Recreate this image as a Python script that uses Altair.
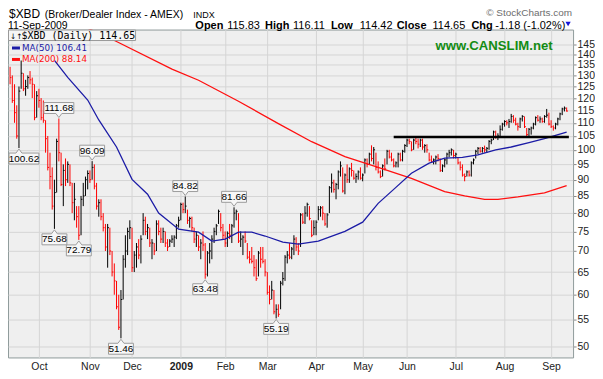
import altair as alt
import pandas as pd

# ---------------- data ----------------
highs = [
    134, 130, 126, 117, 125, 137, 131, 128, 130, 132,
    129, 126, 123, 124, 120, 119, 111, 105, 99, 94,
    90, 104, 111.68, 99, 95, 97, 96, 95, 89, 89,
    82, 82, 85, 89, 91, 93, 93, 96.09, 95, 89,
    84, 84, 80, 77, 77, 76, 70, 67, 63, 60,
    61, 69, 74, 76, 78, 76, 70, 72, 73, 74,
    80, 79, 77, 76, 73, 72, 78, 78, 76, 76,
    75, 73, 73, 74, 74, 77, 79, 83, 83, 84.82,
    81, 79, 79, 76, 75, 74, 73, 75, 72, 70,
    72, 74, 76, 77, 81, 80, 77, 75, 75, 77,
    77, 81.66, 81, 80, 75, 74, 75, 72, 70, 71,
    69, 68, 70, 71, 71, 68, 65, 62, 63, 61,
    58, 58, 63, 65, 69, 70, 72, 71, 74, 73.5,
    72, 80, 80, 82, 83, 82, 78, 78, 78, 82,
    82, 82, 80, 80, 88, 92, 90, 89, 93, 96,
    94, 92, 95, 94, 95.5, 93, 92, 93, 94, 92,
    97, 97, 99, 101.6, 101, 99, 96, 93, 95, 97,
    100, 100, 99, 97, 96, 99, 99, 100, 102, 104,
    104, 103, 104, 104.6, 104, 104, 104, 102, 102, 99,
    98, 97, 98, 98.5, 97, 95, 97, 99, 100, 100.5,
    100, 99, 97.5, 96, 95, 92, 93, 93, 96, 97,
    100, 101, 101, 101, 101.5, 101, 103.5, 104, 107, 107,
    106, 109, 110, 111, 111, 111.5, 113.5, 113, 112, 110,
    112, 113, 112.5, 108, 108, 108.5, 110, 112.5, 113, 112.5,
    112, 113, 115.5, 114, 111, 109, 110, 112, 114, 116,
    116.5, 116.11,
]
lows = [
    126, 118, 110, 104, 100.62, 124, 123, 121, 124, 126,
    120, 111, 112, 116, 111, 110, 99, 93, 87, 81,
    75.68, 86, 96, 88, 82, 88, 89, 88, 80, 78,
    76, 72.79, 74, 82, 85, 87, 89, 90, 87, 81,
    79, 78, 75, 70, 66, 69, 64, 60, 57, 53,
    51.46, 59, 66, 69, 73, 65, 65, 66, 68, 67,
    74, 74, 73, 71, 68, 69, 70, 74, 72, 72,
    71, 70, 71, 72, 71, 73, 76, 78, 80, 80,
    77, 76, 75, 72, 71, 70, 68, 70, 63.48, 64,
    67, 68, 72, 74, 77, 75, 73, 71, 71, 73,
    72, 76, 78, 72, 71, 69, 72, 68, 67, 67,
    64, 63, 64, 66, 67, 64, 60, 58, 59, 56,
    55.19, 55.5, 57, 62, 63, 67, 68, 68, 69, 70,
    69, 71, 77, 77, 79, 78, 73.5, 74, 74, 78,
    79, 78, 76.5, 76, 80, 86, 86, 84, 87, 91,
    86, 85.5, 89, 89, 91, 90, 89, 90, 90, 89.5,
    92, 94, 95, 96, 95, 93, 92, 90.5, 91, 93,
    95, 97, 96, 94, 94, 94, 96, 96, 99, 101,
    102, 99.5, 100, 102, 100.5, 101, 100, 99, 99, 96,
    95.5, 95, 95, 96, 92.5, 92.5, 94, 95, 97.5, 98,
    97, 97, 95, 93, 91, 89.5, 91, 91, 91, 95,
    97, 98.5, 99, 99, 99, 99, 100, 102, 103.5, 104,
    103.5, 105, 107, 108.5, 109, 108, 110, 110, 109, 107,
    108, 110.5, 108, 105, 105, 105.5, 107.5, 109, 110.5, 110,
    110, 110, 112, 109, 108, 107, 107.5, 109, 111, 113,
    114.5, 114.42,
]
closes = [
    129, 119, 114, 105, 123, 131, 124, 125, 129, 128,
    126, 112, 121, 119, 112, 111, 104, 94, 91, 82,
    86, 103, 99, 88.5, 93, 90, 95, 89, 83, 84,
    79, 74, 84, 85, 90, 92, 90, 94, 88, 82,
    83, 79, 76, 71, 76, 70, 65, 63, 57.5, 53.5,
    59, 68, 70, 75, 76, 66, 69, 71, 69, 73,
    78, 75, 76, 72, 72, 70, 77, 75, 73, 75,
    72, 71, 72.5, 73, 73.5, 76.5, 78, 82.5, 81, 82,
    78, 78.5, 76, 73, 74, 71, 72, 71.5, 64.5, 69.5,
    70, 73, 75, 76.5, 80.5, 76, 74, 72, 74.5, 74,
    76.5, 80, 80.5, 72.5, 73, 73.5, 72.5, 68.5, 68, 67.5,
    66, 63.5, 69.5, 68, 67.5, 65, 60.5, 59, 61, 56.5,
    57, 56, 62.5, 63.5, 68.5, 69, 68.5, 70.5, 73, 71,
    70, 79.5, 77.5, 80, 82.5, 78.5, 74, 76, 77.5, 81,
    81.5, 80, 77, 79.5, 87.5, 89, 87, 88.5, 92.5, 94.5,
    86.5, 91.5, 90, 93.5, 93, 90.5, 91, 92.5, 90.5, 91.5,
    96.5, 95, 98.5, 97, 100, 94, 92.5, 91, 94.5, 93.5,
    99.5, 97.5, 96.5, 94.5, 95.5, 98.5, 96.5, 99.5, 101.5, 103.5,
    103, 100, 103.5, 103, 102, 103.5, 101, 101.5, 100, 96.5,
    96, 96.5, 97.5, 97, 93, 94.5, 96.5, 98.5, 99, 100,
    98, 98.5, 95.5, 94, 91.5, 91, 92.5, 91.5, 95.5, 96.5,
    99.5, 100.5, 99.5, 100.5, 100, 100.5, 103, 103.5, 106.5, 104.5,
    105, 107.5, 109.5, 110.5, 110, 110.5, 112.5, 111, 109.5, 108.5,
    111.5, 112.5, 108.5, 105.5, 107.5, 108, 109.5, 112, 111, 111.5,
    110.5, 112.5, 113, 109.5, 108.5, 108, 109.5, 111.5, 113.5, 115.5,
    115.83, 114.65,
]

ma50_idx = [20, 26, 35, 40, 48, 55, 62, 67, 76, 85, 91, 97, 103, 109, 115, 123,
            130, 139, 151, 159, 166, 174, 181, 189, 196, 204, 211, 219, 226, 234, 241, 251]
ma50_val = [137.1, 129.1, 119.2, 111.1, 101.0, 90.1, 85.5, 80.0, 75.6, 74.8, 72.5, 73.0, 74.8, 74.8, 73.8, 72.2,
            71.7, 72.5, 75.0, 77.5, 82.8, 87.6, 92.1, 95.4, 97.1, 97.4, 98.2, 100.0, 101.0, 102.6, 104.0, 106.41]

ma200_idx = [30, 36, 48, 73, 85, 103, 121, 136, 151, 166, 181, 196, 205, 214, 220, 229, 241, 251]
ma200_val = [156.0, 153.0, 146.5, 132.9, 127.8, 118.7, 109.7, 102.9, 97.6, 94.0, 90.4, 86.3, 85.0, 84.0,
             84.0, 84.7, 85.9, 88.14]

ann_idx = [4, 22, 37, 20, 31, 50, 79, 101, 88, 120]
ann_val = [100.62, 111.68, 96.09, 75.68, 72.79, 51.46, 84.82, 81.66, 63.48, 55.19]
ann_pos = ["below", "above", "above", "below", "below", "below", "above", "above", "below", "below"]

res_level = 104.6
res_start = 173
res_end = 252

y_ticks = list(range(50, 150, 5))

holidays = ["2008-11-27", "2008-12-25", "2009-01-01", "2009-01-19", "2009-02-16",
            "2009-04-10", "2009-05-25", "2009-07-03", "2009-09-07"]

# ---------------- tables ----------------
dates = [d for d in pd.bdate_range("2008-09-12", "2009-09-11")
         if d.strftime("%Y-%m-%d") not in holidays]
n = min(len(dates), len(closes), len(highs), len(lows))
dates = dates[:n]
df = pd.DataFrame({"i": list(range(n)), "high": highs[:n], "low": lows[:n], "close": closes[:n]})
prev = df["close"].shift(1)
df["dir"] = ["down" if (pd.isna(p) or c < p) else "up" for c, p in zip(df["close"], prev)]

month_idx, month_lab = [], []
jan_idx = -1
for k in range(1, n):
    if dates[k].month != dates[k - 1].month:
        month_idx.append(k)
        if dates[k].month == 1:
            month_lab.append(str(dates[k].year))
            jan_idx = k
        else:
            month_lab.append(dates[k].strftime("%b"))
label_expr = "''"
for k, lab in reversed(list(zip(month_idx, month_lab))):
    label_expr = f"datum.value == {k} ? '{lab}' : ({label_expr})"

FONT = "Liberation Sans"
GRID = "#d5d5d5"
BLUE = "#1c1ca6"
RED = "#ff1010"

xscale = alt.Scale(domain=[-0.94, 253.9], nice=False, zero=False)
xaxis = alt.Axis(values=month_idx, labelExpr=label_expr, title=None, grid=True, gridColor=GRID,
                 ticks=False, domain=False, labelFont=FONT, labelFontSize=10.5, labelColor="#222222",
                 labelPadding=4, labelFlush=False, labelOverlap=False,
                 labelFontWeight={"condition": {"test": f"datum.value == {jan_idx}", "value": "bold"},
                                  "value": "normal"})


def X(field):
    return alt.X(f"{field}:Q", scale=xscale, axis=xaxis)


yscale = alt.Scale(type="log", domain=[48.1, 152.8], nice=False, zero=False)
yaxis = alt.Axis(orient="right", values=y_ticks, format="d", title=None, grid=True, gridColor=GRID,
                 domain=False, tickSize=3, tickColor="#888888", labelPadding=1, labelFont=FONT,
                 labelFontSize=10.5, labelColor="#222222", labelFlush=False, labelOverlap=False)


def Y(field):
    return alt.Y(f"{field}:Q", scale=yscale, axis=yaxis)


colenc = alt.Color("dir:N", scale=alt.Scale(domain=["up", "down"], range=["#000000", "#ff0000"]), legend=None)

bars = alt.Chart(df).mark_rule(strokeWidth=1).encode(x=X("i"), y=Y("low"), y2="high:Q", color=colenc)
ticks = (alt.Chart(df).transform_calculate(ic="datum.i + 0.6")
         .mark_rule(strokeWidth=1).encode(x=X("i"), x2="ic:Q", y=Y("close"), color=colenc))

ma50 = alt.Chart(pd.DataFrame({"i": ma50_idx, "v": ma50_val})).mark_line(
    color=BLUE, strokeWidth=1.3, clip=True).encode(x=X("i"), y=Y("v"))
ma200 = alt.Chart(pd.DataFrame({"i": ma200_idx, "v": ma200_val})).mark_line(
    color=RED, strokeWidth=1.3, clip=True).encode(x=X("i"), y=Y("v"))

res = alt.Chart(pd.DataFrame({"i": [res_start], "i2": [res_end], "v": [res_level]})).mark_rule(
    color="#000000", strokeWidth=2.6).encode(x=X("i"), x2="i2:Q", y=Y("v"))

ann = pd.DataFrame({"i": ann_idx, "v": ann_val, "pos": ann_pos})
ann["lbl"] = [f"{v:.2f}" for v in ann_val]
# keep the first label inside the visible canvas (the page margin hides x < 0)
ann["sh"] = [5 if k == min(ann_idx) else 0 for k in ann_idx]


def box_path(label, pos, shift):
    w = 15 if len(label) >= 6 else 12.5
    s = 1 if pos == "below" else -1
    pts = [(0, 1), (3, 5), (w + shift, 5), (w + shift, 16), (-w + shift, 16), (-w + shift, 5), (-3, 5)]
    return "M" + "L".join(f"{x},{s * y}" for x, y in pts) + "Z"


ann["shp"] = [box_path(l, p, s) for l, p, s in zip(ann["lbl"], ann["pos"], ann["sh"])]
boxes = alt.Chart(ann).mark_point(filled=True, fill="#f7f7f7", stroke="#9c9c9c", strokeWidth=1,
                                  size=4, opacity=1).encode(
    x=X("i"), y=Y("v"), shape=alt.Shape("shp:N", scale=None))
txt_above = alt.Chart(ann[ann.pos == "above"]).mark_text(
    dy=-10.5, fontSize=10, font=FONT, color="#000000", baseline="middle").encode(
    x=X("i"), y=Y("v"), text="lbl:N")
txt_below = alt.Chart(ann[ann.pos == "below"]).transform_calculate(
    ix="datum.i + datum.sh / 2.225").mark_text(
    dy=10.5, fontSize=10, font=FONT, color="#000000", baseline="middle").encode(
    x=X("ix"), y=Y("v"), text="lbl:N")

one = pd.DataFrame({"a": [0]})


def txt(s, x, y, size, weight="normal", color="#000000", font=FONT, align="left"):
    return alt.Chart(one).mark_text(text=s, fontSize=size, fontWeight=weight, color=color, font=font,
                                    align=align, baseline="alphabetic").encode(
        x=alt.value(x), y=alt.value(y))


def dash(x1, x2, y, color):
    return alt.Chart(one).mark_rule(color=color, strokeWidth=3).encode(
        x=alt.value(x1), x2=alt.value(x2), y=alt.value(y))


legend_box = alt.Chart(one).mark_rect(fill="#f6f6f6", stroke="#9a9a9a", strokeWidth=1).encode(
    x=alt.value(0.5), x2=alt.value(128), y=alt.value(0.5), y2=alt.value(11))

header = [
    txt("$XBD", 1, -11.5, 12),
    txt("(Broker/Dealer Index - AMEX)", 37, -11.5, 10.5),
    txt("INDX", 186, -12, 9),
    txt("11-Sep-2009", 0, -0.5, 10.5),
    txt("Open", 188, -0.5, 11, "bold"),
    txt("115.83", 220, -0.5, 11),
    txt("High", 258, -0.5, 11, "bold"),
    txt("116.11", 286, -0.5, 11),
    txt("Low", 324, -0.5, 11, "bold"),
    txt("114.42", 353, -0.5, 11),
    txt("Close", 390, -0.5, 11, "bold"),
    txt("114.65", 426, -0.5, 11),
    txt("Chg", 465, -0.5, 11, "bold"),
    txt("-1.18 (-1.02%)", 489, -0.5, 11),
    txt("\u00a9 StockCharts.com", 566, -14, 10, color="#6e6e6e", align="right"),
    alt.Chart(one).mark_point(shape="triangle-down", filled=True, color="#1414d8", size=28,
                              opacity=1).encode(x=alt.value(562), y=alt.value(-5.5)),
    legend_box,
    txt("\u2193\u2191", 2, 9, 7.5, font="DejaVu Sans"),
    txt("$XBD (Daily) 114.65", 13.5, 9.5, 10, font="DejaVu Sans Mono"),
    dash(4, 12, 18.5, BLUE),
    txt("MA(50) 106.41", 14, 21.5, 8.8, color=BLUE, font="DejaVu Sans"),
    dash(4, 12, 30, RED),
    txt("MA(200) 88.14", 14, 33, 8.8, color=RED, font="DejaVu Sans"),
    txt("www.CANSLIM.net", 429, 21, 13.2, "bold", color="#148c14"),
]

chart = alt.layer(
    bars, ticks, ma200, ma50, res, boxes, txt_above, txt_below, *header
).properties(
    width=567, height=329,
    padding={"left": 0, "top": 21, "right": 22, "bottom": 21},
    autosize=alt.AutoSizeParams(type="none"),
    background="#ffffff",
).configure_view(fill="#efefef", stroke="#8f9b9b", strokeWidth=1)

chart.save("out.html", embed_options={"renderer": "svg", "actions": False})
